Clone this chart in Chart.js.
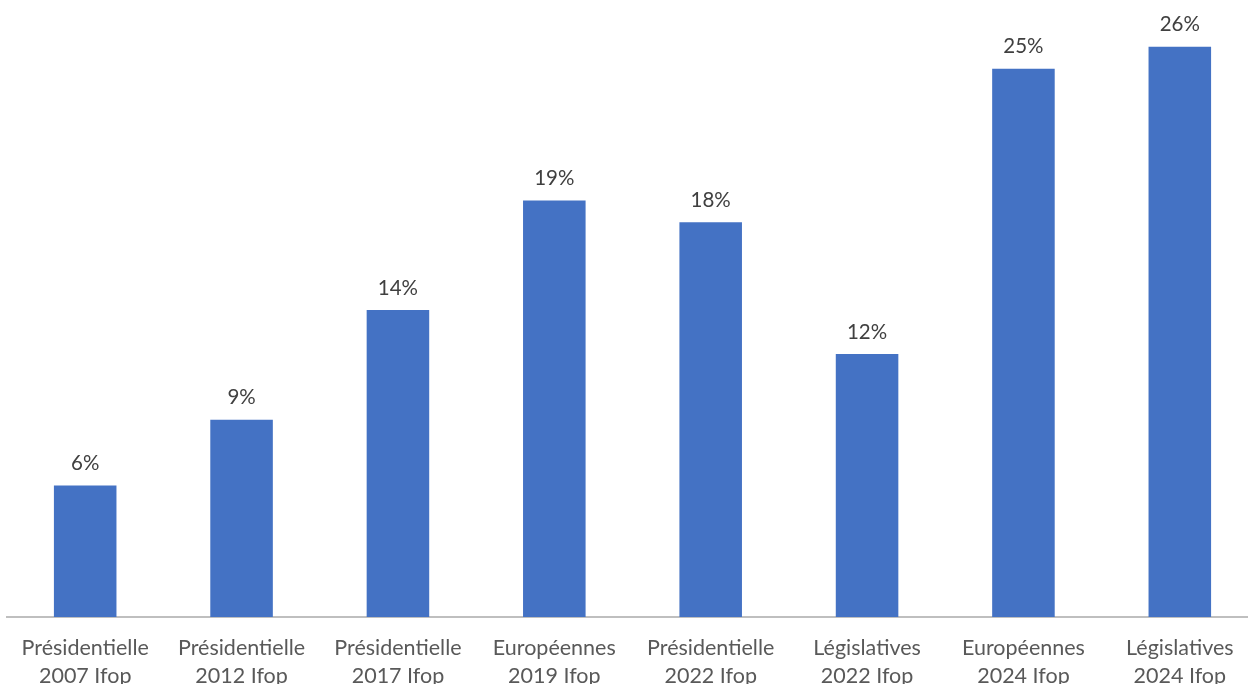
<!DOCTYPE html>
<html>
<head>
<meta charset="utf-8">
<script src="https://cdn.jsdelivr.net/npm/chart.js@4"></script>
<style>
  html, body { margin: 0; padding: 0; background: #fff; overflow: hidden; }
  #wrap { width: 1258px; height: 699px; }
</style>
</head>
<body>
<div id="wrap"><canvas id="myChart"></canvas></div>
<script>
const categories = [
    ['Présidentielle', '2007 Ifop'],
    ['Présidentielle', '2012 Ifop'],
    ['Présidentielle', '2017 Ifop'],
    ['Européennes', '2019 Ifop'],
    ['Présidentielle', '2022 Ifop'],
    ['Législatives', '2022 Ifop'],
    ['Européennes', '2024 Ifop'],
    ['Législatives', '2024 Ifop']
];
const valeurs = [6, 9, 14, 19, 18, 12, 25, 26];

// etiquettes au dessus des barres
const etiquettes = {
    id: 'etiquettes',
    afterDatasetsDraw(chart) {
        const ctx = chart.ctx;
        const meta = chart.getDatasetMeta(0);
        ctx.save();
        ctx.fillStyle = '#404040';
        ctx.font = '20.5px Lato';
        ctx.textAlign = 'center';
        ctx.textBaseline = 'middle';
        meta.data.forEach((bar, i) => {
            ctx.fillText(valeurs[i] + '%', bar.x, bar.y - 22);
        });
        ctx.restore();
    }
};

const data = {
    labels: categories,
    datasets: [{
        label: 'Score',
        data: valeurs,
        backgroundColor: '#4472C4',
        barPercentage: 0.4,
        categoryPercentage: 1
    }]
};

const config = {
    type: 'bar',
    data: data,
    options: {
        responsive: true,
        maintainAspectRatio: false,
        animation: false,
        layout: { padding: { left: 7, right: 0, top: 3, bottom: 0 } },
        plugins: {
            legend: { display: false },
            tooltip: { enabled: false }
        },
        scales: {
            x: {
                grid: { display: false },
                border: { color: '#bfbfbf', width: 2 },
                ticks: {
                    color: '#595959',
                    font: { family: 'Lato', size: 21.5, lineHeight: 1.3 },
                    padding: 9,
                    maxRotation: 0,
                    autoSkip: false
                }
            },
            y: {
                display: false,
                min: 0,
                max: 28
            }
        }
    },
    plugins: [etiquettes]
};

const myChart = new Chart(document.getElementById('myChart'), config);
</script>
</body>
</html>
